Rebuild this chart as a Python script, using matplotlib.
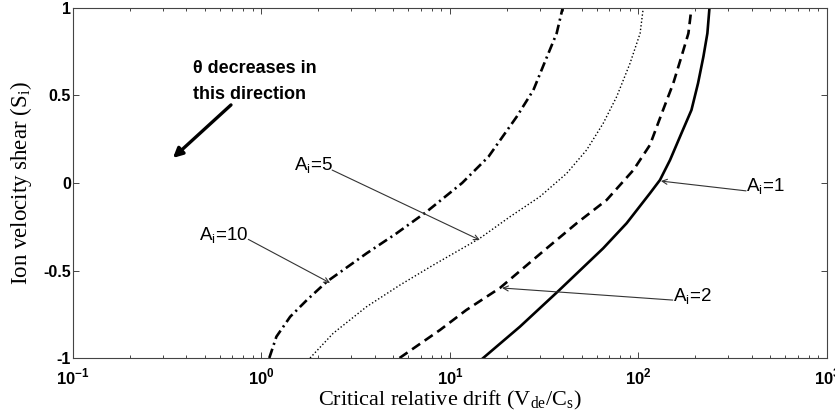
import matplotlib
matplotlib.use("Agg")
import matplotlib.pyplot as plt
from matplotlib.ticker import FixedLocator, FixedFormatter, LogLocator, NullFormatter

plt.rcParams['lines.scale_dashes'] = False

# ---- data ----
# A_i = 1 (solid)
s1_x = [15.0, 23.5, 37.6, 65.0, 86.5, 115, 130, 147, 169, 191, 207, 221, 232, 238]
s1_y = [-1.0, -0.821, -0.617, -0.373, -0.230, -0.059, 0.017, 0.131, 0.284, 0.417, 0.570, 0.722, 0.855, 1.0]
# A_i = 2 (dashed)
s2_x = [5.4, 8.85, 12.2, 18.4, 32.6, 47.0, 67.8, 94.0, 115, 135, 153, 169, 184, 191]
s2_y = [-1.0, -0.840, -0.726, -0.600, -0.373, -0.230, -0.097, 0.074, 0.217, 0.417, 0.570, 0.722, 0.855, 1.0]
# A_i = 5 (dotted)
s5_x = [1.81, 2.40, 3.61, 5.43, 8.15, 14.4, 20.8, 30.0, 41.6, 53.1, 65.0, 76.6, 90.2, 102, 106]
s5_y = [-1.0, -0.859, -0.707, -0.583, -0.469, -0.316, -0.193, -0.078, 0.055, 0.189, 0.341, 0.493, 0.684, 0.855, 1.0]
# A_i = 10 (dash-dot)
s10_x = [1.10, 1.20, 1.42, 1.74, 2.22, 3.61, 5.2, 7.52, 11.6, 16.0, 22.6, 27.7, 31.9, 36.8, 39.6]
s10_y = [-1.0, -0.878, -0.764, -0.669, -0.564, -0.402, -0.288, -0.164, 0.0, 0.150, 0.379, 0.531, 0.693, 0.855, 1.0]

x_ticks = [0.1, 1, 10, 100, 1000]
x_ticklabels = ['10$^{\\mathregular{-1}}$', '10$^{\\mathregular{0}}$', '10$^{\\mathregular{1}}$',
                '10$^{\\mathregular{2}}$', '10$^{\\mathregular{3}}$']
y_ticks = [-1, -0.5, 0, 0.5, 1]
y_ticklabels = ['-1', '-0.5', '0', '0.5', '1']

labels = ['A$_\\mathregular{i}$=1', 'A$_\\mathregular{i}$=2', 'A$_\\mathregular{i}$=5', 'A$_\\mathregular{i}$=10']

# ---- figure ----
fig = plt.figure(figsize=(8.35, 4.2), dpi=100)
ax = fig.add_axes([0.0874, 0.1476, 0.9030, 0.8334])
ax.set_xscale('log')

ax.plot(s1_x, s1_y, color='black', lw=1.9, linestyle='-')
ax.plot(s2_x, s2_y, color='black', lw=1.9, linestyle=(0, (7, 4)))
ax.plot(s5_x, s5_y, color='black', lw=1.0, linestyle=(0, (1, 1.6)))
ax.plot(s10_x, s10_y, color='black', lw=1.9, linestyle=(0, (7, 3, 1.5, 3)))

ax.set_xlim(0.1, 1000)
ax.set_ylim(-1, 1)

sans = 'Liberation Sans'
serif = 'Liberation Serif'

ax.xaxis.set_major_locator(FixedLocator(x_ticks))
ax.xaxis.set_major_formatter(FixedFormatter(x_ticklabels))
ax.xaxis.set_minor_locator(LogLocator(base=10, subs=range(2, 10), numticks=20))
ax.xaxis.set_minor_formatter(NullFormatter())
ax.yaxis.set_major_locator(FixedLocator(y_ticks))
ax.yaxis.set_major_formatter(FixedFormatter(y_ticklabels))

ax.tick_params(which='both', direction='in', top=True, right=True, color='#444444', width=0.7)
ax.tick_params(which='major', length=4.5)
ax.tick_params(which='minor', length=2.5)
ax.tick_params(axis='x', which='major', pad=6.5, labelsize=12)
ax.tick_params(axis='y', which='major', pad=1.5, labelsize=11.5)
for lab in ax.get_xticklabels() + ax.get_yticklabels():
    lab.set_fontfamily(sans)
    lab.set_fontweight('bold')

for sp in ax.spines.values():
    sp.set_color('#444444')
    sp.set_linewidth(0.8)

ax.set_xlabel('Critical relative drift (V$_\\mathregular{de}$/C$_\\mathregular{s}$)',
              fontfamily=serif, fontsize=16, va='baseline')
ax.xaxis.set_label_coords(0.5, -0.135)
ax.set_ylabel('Ion velocity shear (S$_\\mathregular{i}$)', fontfamily=serif, fontsize=16.5, va='center')
ax.yaxis.set_label_coords(-0.069, 0.5)

# ---- annotations ----
arrow_thin = dict(arrowstyle='->', color='#333333', lw=0.8, shrinkA=0, shrinkB=0,
                  mutation_scale=9)
ann = [
    (labels[0], (372, -0.051), (131.6, 0.011), (372, -0.045)),
    (labels[1], (152, -0.68), (18.9, -0.60), (152, -0.669)),
    (labels[2], (1.49, 0.070), (14.4, -0.326), (2.37, 0.074)),
    (labels[3], (0.468, -0.33), (2.31, -0.571), (0.851, -0.322)),
]
for txt, pos, tip, tail in ann:
    ax.text(pos[0], pos[1], txt, fontfamily=sans, fontsize=13.5, ha='left', va='baseline')
    ax.annotate('', xy=tip, xytext=tail, xycoords='data', textcoords='data',
                arrowprops=arrow_thin)

ax.text(0.431, 0.627, '\u03b8 decreases in', fontfamily=sans, fontweight='bold', fontsize=13,
        ha='left', va='baseline')
ax.text(0.431, 0.478, 'this direction', fontfamily=sans, fontweight='bold', fontsize=13,
        ha='left', va='baseline')
ax.annotate('', xy=(0.339, 0.143), xytext=(0.689, 0.446), xycoords='data', textcoords='data',
            arrowprops=dict(arrowstyle='-|>', color='black', lw=2.4, shrinkA=0, shrinkB=0,
                            mutation_scale=14))

fig.savefig('out.png', dpi=100)
